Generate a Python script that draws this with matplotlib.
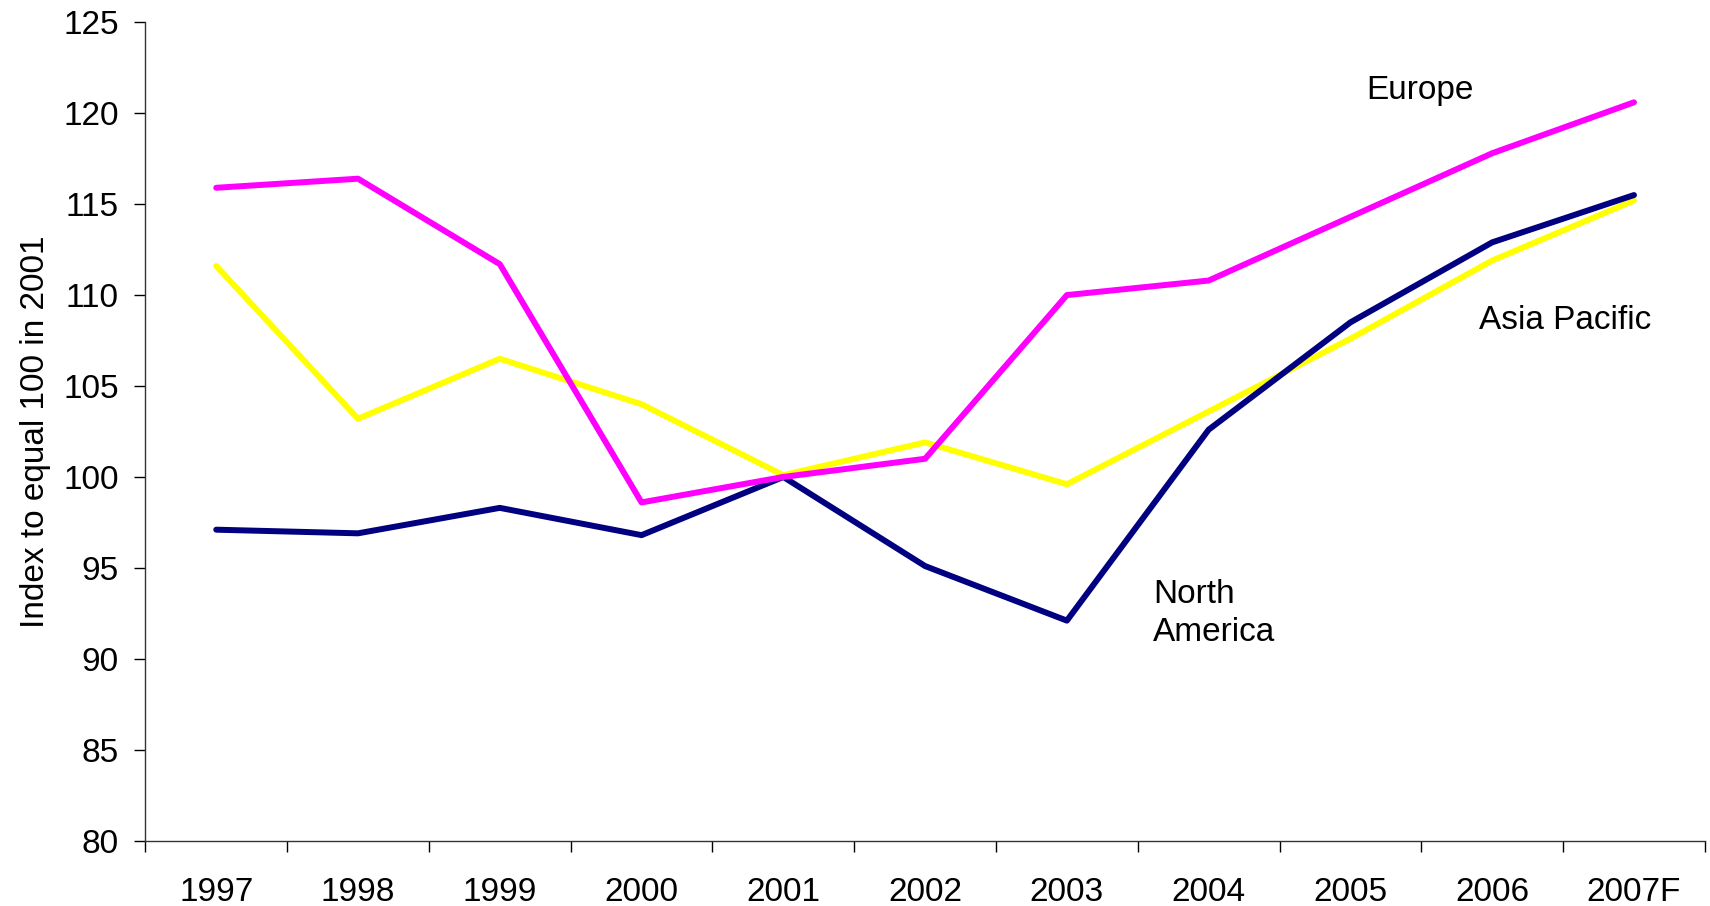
import matplotlib
matplotlib.use("Agg")
import matplotlib.pyplot as plt
from matplotlib.ticker import FixedLocator

plt.rcParams['font.family'] = ['Liberation Sans', 'DejaVu Sans']

years = ['1997', '1998', '1999', '2000', '2001', '2002', '2003', '2004', '2005', '2006', '2007F']
europe = [115.9, 116.4, 111.7, 98.6, 100.0, 101.0, 110.0, 110.8, 114.3, 117.8, 120.6]
north_america = [97.1, 96.9, 98.3, 96.8, 100.0, 95.1, 92.1, 102.6, 108.5, 112.9, 115.5]
asia_pacific = [111.6, 103.2, 106.5, 104.0, 100.1, 101.9, 99.6, 103.6, 107.6, 111.9, 115.2]

fig = plt.figure(figsize=(17.1, 9.06), dpi=100)
ax = fig.add_axes([0.085, 0.0721, 0.912, 0.9033])

x = list(range(len(years)))
ax.plot(x, asia_pacific, color='#FFFF00', lw=4.3, solid_capstyle='round')
ax.plot(x, north_america, color='#000080', lw=4.3, solid_capstyle='round')
ax.plot(x, europe, color='#FF00FF', lw=4.3, solid_capstyle='round')

ax.set_xlim(-0.5, len(years) - 0.5)
ax.set_ylim(80, 125)
ax.set_yticks(range(80, 126, 5))

ax.xaxis.set_major_locator(FixedLocator([i - 0.5 for i in range(len(years) + 1)]))
ax.xaxis.set_minor_locator(FixedLocator(x))
ax.set_xticklabels([])
ax.set_xticklabels(years, minor=True)
ax.tick_params(axis='x', which='major', direction='out', length=8, width=1)
ax.tick_params(axis='x', which='minor', length=0, pad=26, labelsize=24)
ax.tick_params(axis='y', direction='out', length=8, width=1, pad=11, labelsize=24)

for s in ['top', 'right']:
    ax.spines[s].set_visible(False)
for s in ['left', 'bottom']:
    ax.spines[s].set_linewidth(1)
    ax.spines[s].set_color('#333333')

ax.set_ylabel('Index to equal 100 in 2001', fontsize=24, labelpad=9)

ax.text(8.11, 121.25, 'Europe', fontsize=24, va='center', ha='left')
ax.text(8.91, 108.58, 'Asia Pacific', fontsize=24, va='center', ha='left')
ax.text(6.61, 92.5, 'North\nAmerica', fontsize=24, va='center', ha='left', linespacing=1.3)

fig.savefig('out.png', dpi=100)
